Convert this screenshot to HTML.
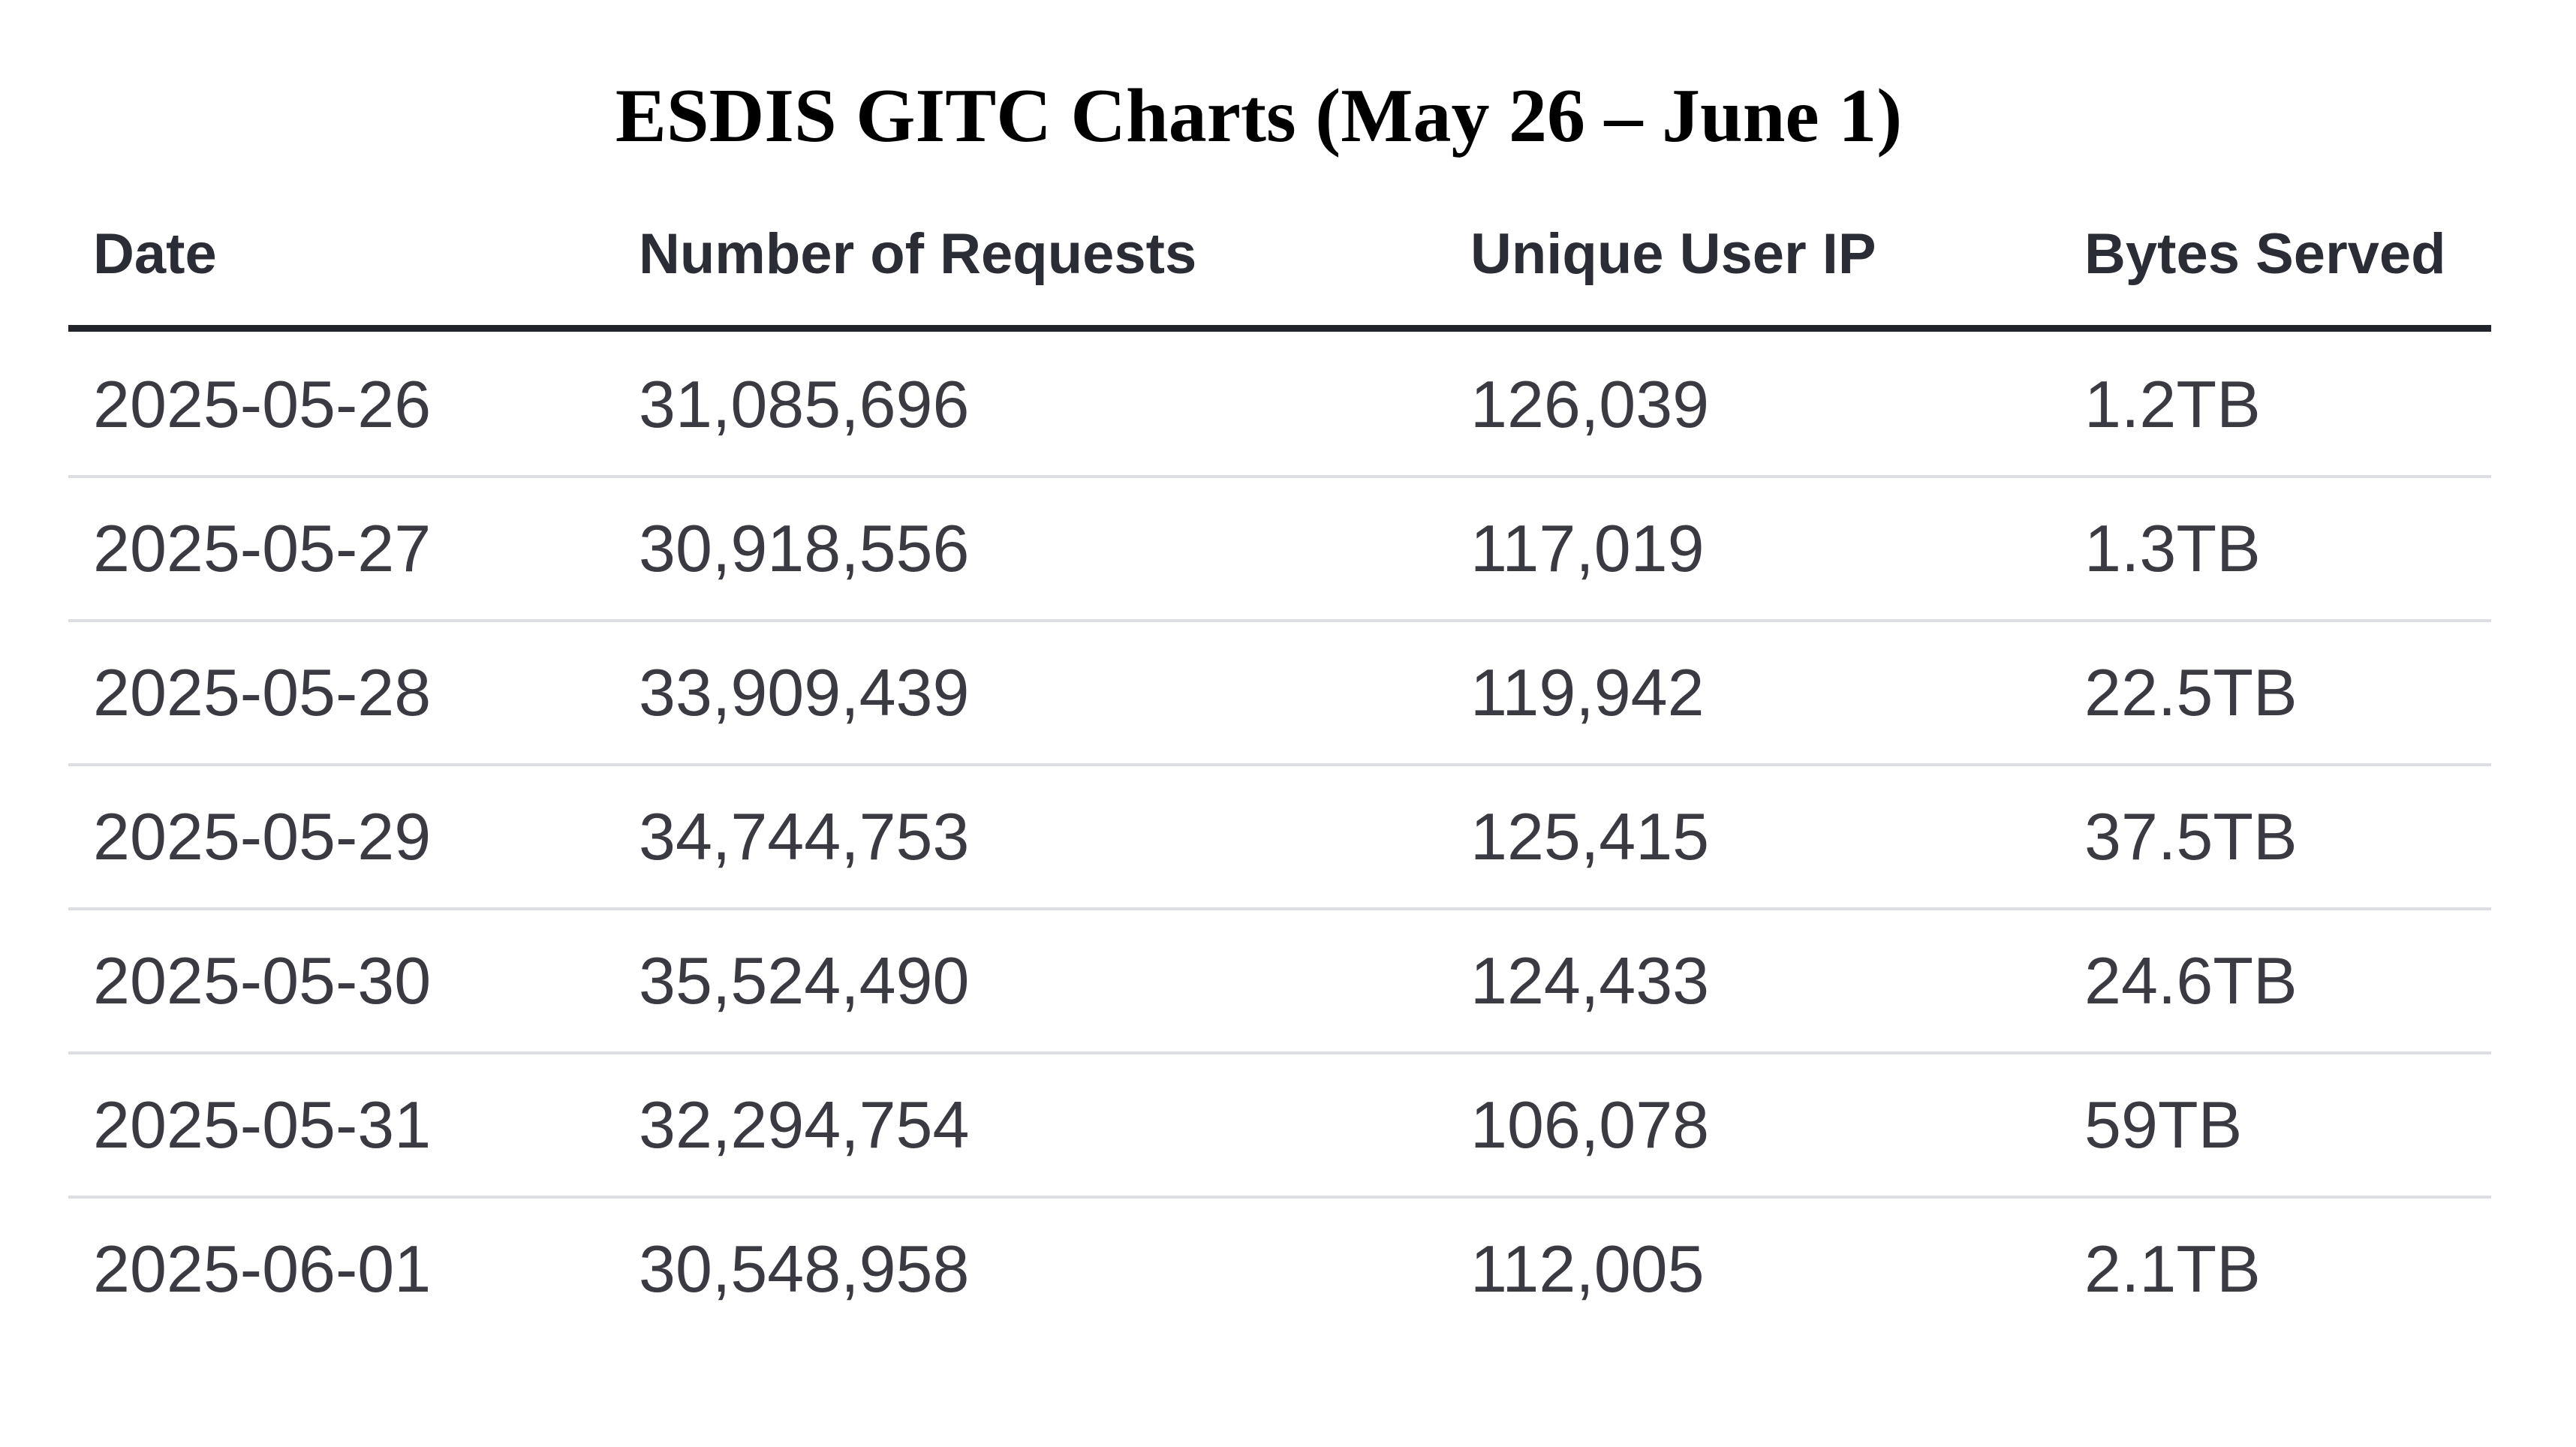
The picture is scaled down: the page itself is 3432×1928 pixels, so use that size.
<!DOCTYPE html>
<html><head><meta charset="utf-8"><style>
body{margin:0;width:3432px;height:1928px;background:#fff;position:relative;overflow:hidden}
.t{position:absolute;white-space:nowrap;line-height:1}
#title{font-family:"Liberation Serif",serif;font-weight:bold;font-size:102px;color:#000;left:0;width:3354px;text-align:center;top:104px}
.h{font-family:"Liberation Sans",sans-serif;font-weight:bold;font-size:76px;color:#2b2d36;top:301px}
.d{font-family:"Liberation Sans",sans-serif;font-size:88px;color:#3a3b42}
.line{position:absolute;left:91px;width:3228px}
</style></head><body>
<div class="t" id="title">ESDIS GITC Charts (May 26 – June 1)</div>
<div class="t h" style="left:124px">Date</div>
<div class="t h" style="left:851px">Number of Requests</div>
<div class="t h" style="left:1959px">Unique User IP</div>
<div class="t h" style="left:2777px">Bytes Served</div>
<div class="line" style="top:433px;height:9px;background:#22242c"></div>
<div id="rows"></div>
<script>
const dates=["2025-05-26","2025-05-27","2025-05-28","2025-05-29","2025-05-30","2025-05-31","2025-06-01"];
const requests=["31,085,696","30,918,556","33,909,439","34,744,753","35,524,490","32,294,754","30,548,958"];
const uniqueIPs=["126,039","117,019","119,942","125,415","124,433","106,078","112,005"];
const bytesServed=["1.2TB","1.3TB","22.5TB","37.5TB","24.6TB","59TB","2.1TB"];
const rows=document.getElementById('rows');
const colX=[124,851,1959,2777];
const colNames=['cell-date','cell-requests','cell-unique-ip','cell-bytes'];
dates.forEach((d,i)=>{
  const vals=[d,requests[i],uniqueIPs[i],bytesServed[i]];
  const top=495+i*192;
  vals.forEach((v,j)=>{
    const el=document.createElement('div');
    el.className='t d';
    el.style.left=colX[j]+'px';
    el.style.top=top+'px';
    el.textContent=v;
    
    
    rows.appendChild(el);
  });
  if(i<dates.length-1){
    const ln=document.createElement('div');
    ln.className='line';
    ln.style.top=(633+i*192)+'px';
    ln.style.height='4px';
    ln.style.background='#dcdee6';
    
    
    rows.appendChild(ln);
  }
});
</script>
</body></html>
